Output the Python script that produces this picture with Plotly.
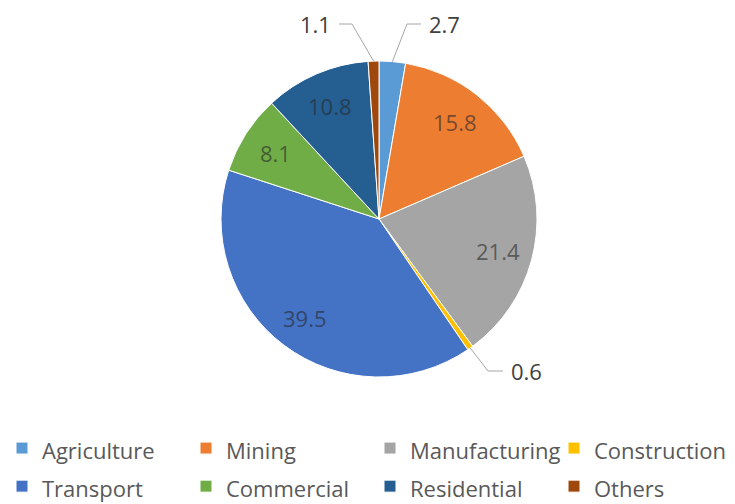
import math
import plotly.graph_objects as go

# Energy use share by sector (%)
sectors = ["Agriculture", "Mining", "Manufacturing", "Construction",
           "Transport", "Commercial", "Residential", "Others"]
shares = [2.7, 15.8, 21.4, 0.6, 39.5, 8.1, 10.8, 1.1]
colors = ["#5B9BD5", "#ED7D31", "#A5A5A5", "#FFC000",
          "#4472C4", "#70AD47", "#255E91", "#9E480E"]

# Slices too thin for an inside label get a leader line to an outside label:
# sector -> (elbow x, elbow y), (end x, end y) in page pixels, and text side
outside_labels = {
    "Others": ((352, 24), (339, 24), "right"),
    "Agriculture": ((407, 24), (421, 24), "left"),
    "Construction": ((488, 371), (503, 371), "left"),
}

W, H = 735, 504
CX, CY, R = 379, 219, 158  # pie centre and radius in page pixels
LABEL_R = 0.78 * R


def px(x, y):
    """Page pixels -> paper coordinates (figure has no margins)."""
    return x / W, 1 - y / H


fig = go.Figure(go.Pie(
    labels=[f"<span style='font-size:22px'>{s}</span>" for s in sectors],
    values=shares,
    customdata=sectors,
    sort=False,
    direction="clockwise",
    rotation=0,
    textinfo="none",
    marker=dict(colors=colors, line=dict(color="white", width=1)),
    hovertemplate="%{customdata}: %{value}<extra></extra>",
    domain=dict(x=[(CX - R) / W, (CX + R) / W],
                y=[1 - (CY + R) / H, 1 - (CY - R) / H]),
))

annotations = []
shapes = []
total = sum(shares)
cum = 0.0
for name, val in zip(sectors, shares):
    mid = (cum + val / 2) / total * 2 * math.pi
    cum += val
    sx, sy = math.sin(mid), -math.cos(mid)
    if name in outside_labels:
        (ex, ey), (tx, ty), side = outside_labels[name]
        rx, ry = CX + R * sx, CY + R * sy
        for (x0, y0), (x1, y1) in (((rx, ry), (ex, ey)), ((ex, ey), (tx, ty))):
            a0, b0 = px(x0, y0)
            a1, b1 = px(x1, y1)
            shapes.append(dict(type="line", xref="paper", yref="paper",
                               x0=a0, y0=b0, x1=a1, y1=b1,
                               line=dict(color="#A6A6A6", width=1)))
        ax, ay = px(tx + (6 if side == "left" else -6), ty)
        annotations.append(dict(
            x=ax, y=ay, xref="paper", yref="paper", showarrow=False,
            text=f"{val}", xanchor=side, yanchor="middle",
            font=dict(family="Open Sans", size=22, color="#404040")))
    else:
        ax, ay = px(CX + LABEL_R * sx, CY + LABEL_R * sy)
        annotations.append(dict(
            x=ax, y=ay, xref="paper", yref="paper", showarrow=False,
            text=f"{val}", xanchor="center", yanchor="middle",
            font=dict(family="Open Sans", size=22, color="rgba(40,40,40,0.62)")))

lx, ly = px(2, 424)
fig.update_layout(
    width=W, height=H,
    margin=dict(l=0, r=0, t=0, b=0, autoexpand=False),
    paper_bgcolor="white",
    plot_bgcolor="white",
    showlegend=True,
    legend=dict(
        orientation="h",
        x=lx, y=ly, xanchor="left", yanchor="top",
        entrywidth=139, entrywidthmode="pixels",
        font=dict(family="Open Sans", size=27, color="#595959"),
        bgcolor="rgba(0,0,0,0)",
        traceorder="normal",
    ),
    annotations=annotations,
    shapes=shapes,
)

fig.write_html("out.html")
